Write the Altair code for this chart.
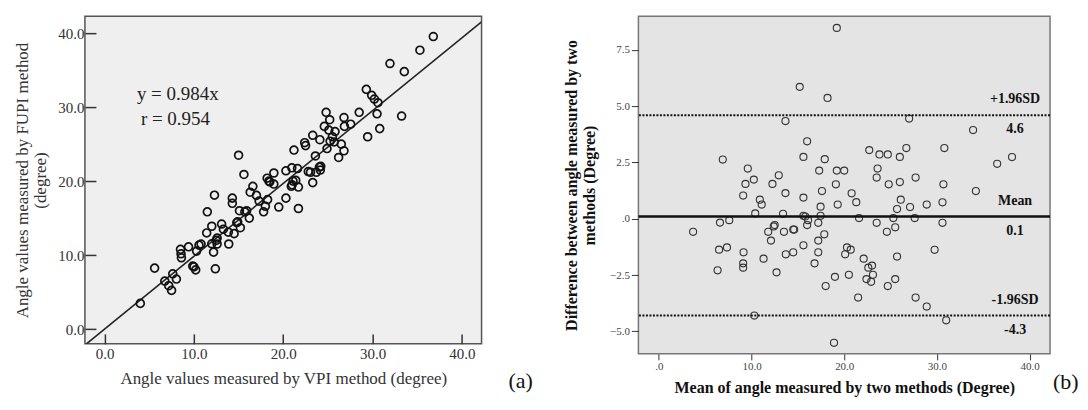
import altair as alt
import pandas as pd

# ---------------- Panel (a): VPI vs FUPI ----------------
vpi = [4.0, 5.6, 6.74, 7.18, 7.5, 7.63, 8.04, 8.5, 8.56, 8.6, 9.4, 9.87, 10.0, 10.2,
       10.3, 10.57, 10.8, 11.43, 11.5, 12.3, 12.0, 12.0, 12.2, 12.4, 12.6, 12.6, 12.5,
       13.1, 13.3, 13.9, 13.85, 14.5, 14.3, 14.3, 14.8, 14.9, 15.2, 15.0, 15.1, 15.6,
       15.7, 15.9, 16.2, 16.3, 16.6, 17.0, 17.3, 17.8, 18.0, 18.25, 18.2, 18.4, 18.95,
       18.95, 19.5, 20.3, 20.3, 20.96, 21.6, 20.9, 21.1, 21.7, 21.7, 21.2, 22.4, 22.5,
       22.8, 36.8, 35.3, 31.95, 33.55, 29.3, 29.9, 30.2, 30.6, 30.5, 33.25, 30.8, 29.45,
       28.5, 27.55, 26.8, 26.85, 24.8, 25.2, 24.6, 25.1, 25.8, 25.5, 25.25, 25.7, 24.9,
       26.5, 26.8, 26.2, 23.3, 24.1, 23.6, 23.05, 23.7, 24.05, 24.2, 24.15, 21.4, 21.0,
       23.3, 18.5]
fupi = [3.47, 8.24, 6.49, 5.86, 5.23, 7.47, 6.76, 10.77, 10.18, 9.64, 11.12, 8.51, 8.4, 8.0,
        10.54, 11.35, 11.49, 13.0, 15.85, 18.1, 13.9, 11.53, 10.4, 8.15, 12.3, 11.5, 12.0,
        14.2, 13.5, 11.5, 13.1, 12.9, 17.7, 17.0, 14.4, 14.5, 13.7, 23.5, 16.0, 20.9,
        15.85, 16.0, 15.0, 18.5, 19.3, 18.07, 17.3, 15.85, 16.6, 17.5, 20.4, 20.0, 21.1,
        19.6, 16.5, 21.4, 17.7, 21.8, 21.7, 19.3, 20.0, 19.2, 16.3, 24.2, 25.2, 24.8,
        21.3, 39.55, 37.7, 35.9, 34.8, 32.4, 31.6, 31.1, 30.6, 29.1, 28.8, 27.1, 26.0,
        29.3, 27.7, 28.6, 27.4, 29.3, 28.3, 27.4, 26.9, 26.7, 26.0, 25.4, 25.3, 24.4,
        25.0, 24.1, 23.2, 26.2, 25.6, 23.4, 21.2, 21.2, 21.9, 22.0, 21.5, 20.1, 19.5,
        19.8, 19.9]
slope = 0.984
fit_text = ["y = 0.984x", "r = 0.954"]

# ---------------- Panel (b): Bland-Altman ----------------
ba_mean = [6.9, 9.6, 10.25, 9.35, 9.1, 12.26, 12.94, 10.9, 11.1, 10.4, 7.6, 6.6, 3.7, 12.5,
           12.4, 11.8, 12.1, 6.5, 7.35, 9.14, 9.1, 9.1, 6.34, 11.3, 12.7, 10.3, 19.2, 15.2,
           18.2, 13.66, 16.0, 15.6, 17.9, 22.7, 23.8, 24.7, 26.0, 17.3, 19.2, 20.0, 23.6,
           23.5, 13.66, 15.6, 17.6, 19.1, 20.8, 21.3, 24.8, 26.0, 26.1, 25.7, 17.45, 19.3,
           13.4, 15.6, 15.8, 16.1, 17.45, 16.0, 17.2, 13.5, 14.5, 14.6, 21.6, 23.5, 24.6,
           25.3, 25.5, 17.85, 17.2, 15.6, 17.2, 13.7, 14.5, 16.8, 20.3, 20.7, 20.1, 22.1,
           23.0, 22.6, 23.1, 22.4, 22.9, 19.0, 20.5, 18.0, 21.5, 24.7, 25.5, 25.7, 18.9,
           27.0, 33.9, 26.7, 30.8, 36.5, 38.1, 27.7, 30.7, 34.2, 27.1, 28.9, 30.6, 27.6,
           30.6, 29.75, 27.7, 28.9, 31.0]
ba_diff = [2.63, 2.23, 1.74, 1.55, 1.03, 1.55, 1.93, 0.85, 0.63, 0.24, -0.06, -0.17, -0.58,
           -0.28, -0.34, -0.58, -0.97, -1.37, -1.27, -1.49, -1.98, -2.17, -2.29, -1.77,
           -2.38, -4.3, 8.48, 5.86, 5.37, 4.34, 3.44, 2.75, 2.65, 3.05, 2.86, 2.86, 2.75,
           2.14, 2.14, 2.14, 2.23, 1.83, 1.14, 0.94, 1.23, 1.53, 1.13, 0.74, 1.53, 1.63,
           0.85, 0.43, 0.54, 0.63, 0.22, 0.13, 0.1, -0.06, 0.13, -0.28, -0.18, -0.58, -0.48,
           -0.48, 0.03, -0.18, -0.58, 0.03, -0.38, -0.69, -0.97, -1.18, -1.49, -1.58, -1.49,
           -1.98, -1.27, -1.37, -1.58, -1.77, -2.08, -2.17, -2.49, -2.68, -2.8, -2.58,
           -2.49, -2.99, -3.5, -2.99, -2.68, -1.68, -5.51, 4.45, 3.94, 3.14, 3.14, 2.44,
           2.74, 1.83, 1.53, 1.23, 0.52, 0.63, 0.73, 0.03, -0.18, -1.38, -3.5, -3.9, -4.51]
limit_values = [4.6, 0.1, -4.3]
limit_names = ["+1.96SD", "Mean", "-1.96SD"]
limit_texts = ["4.6", "0.1", "-4.3"]
limit_kind = ["dotted", "solid", "dotted"]

SERIF = "Liberation Serif"
XDOM = [-2.2, 42.2]

# ----- Panel (a)
df_a = pd.DataFrame({"vpi": vpi, "fupi": fupi})
df_fit = pd.DataFrame({"vpi": XDOM, "fupi": [slope * v for v in XDOM]})

xa = alt.X("vpi:Q", scale=alt.Scale(domain=XDOM, nice=False, zero=False),
           axis=alt.Axis(values=[0, 10, 20, 30, 40], format=".1f", offset=-10, tickSize=10,
                         domain=False, grid=False, tickColor="#333", tickWidth=1.5,
                         labelFont=SERIF, labelFontSize=15, labelColor="#333", labelPadding=3,
                         title="Angle values measured by VPI method (degree)",
                         titleFont=SERIF, titleFontSize=17, titleFontWeight="normal",
                         titleColor="#333", titlePadding=9))
ya = alt.Y("fupi:Q", scale=alt.Scale(domain=[-2.0, 42.3], nice=False, zero=False),
           axis=alt.Axis(values=[0, 10, 20, 30, 40], format=".1f", offset=-11, tickSize=11,
                         domain=False, grid=False, tickColor="#333", tickWidth=1.5,
                         labelFont=SERIF, labelFontSize=15, labelColor="#333", labelPadding=1,
                         title=["Angle values measured by FUPI method", "(degree)"],
                         titleFont=SERIF, titleFontSize=17, titleFontWeight="normal",
                         titleColor="#333", titlePadding=8, titleLineHeight=18))

pts_a = alt.Chart(df_a).mark_point(shape="circle", filled=False, stroke="#111",
                                   strokeWidth=1.7, size=62, opacity=1).encode(x=xa, y=ya)
fit_a = alt.Chart(df_fit).mark_line(color="#222", strokeWidth=1.6, clip=True).encode(
    x="vpi:Q", y="fupi:Q")
ann1 = alt.Chart(pd.DataFrame({"t": [fit_text[0]]})).mark_text(
    align="left", baseline="middle", font=SERIF, fontSize=19, color="#222").encode(
    x=alt.value(52), y=alt.value(78), text="t:N")
ann2 = alt.Chart(pd.DataFrame({"t": [fit_text[1]]})).mark_text(
    align="left", baseline="middle", font=SERIF, fontSize=19, color="#222").encode(
    x=alt.value(56), y=alt.value(103), text="t:N")
tag_a = alt.Chart(pd.DataFrame({"t": ["(a)"]})).mark_text(
    align="left", baseline="middle", font=SERIF, fontSize=22, color="#111").encode(
    x=alt.value(424), y=alt.value(365), text="t:N")

panel_a = alt.layer(fit_a, pts_a, ann1, ann2, tag_a).properties(
    width=397, height=328,
    view=alt.ViewBackground(fill="#efefef", stroke="#555", strokeWidth=1.5))

# ----- Panel (b)
df_b = pd.DataFrame({"m": ba_mean, "d": ba_diff})
df_lim = pd.DataFrame({"v": limit_values, "name": limit_names, "txt": limit_texts,
                       "kind": limit_kind})

lab_expr = "datum.value == 0 ? '.0' : format(datum.value, '.1f')"
xb = alt.X("m:Q", scale=alt.Scale(domain=XDOM, nice=False, zero=False),
           axis=alt.Axis(values=[0, 10, 20, 30, 40], labelExpr=lab_expr, tickSize=6,
                         domain=False, grid=False, tickColor="#333",
                         labelFont=SERIF, labelFontSize=11, labelColor="#444", labelPadding=1,
                         title="Mean of angle measured by two methods (Degree)",
                         titleFont=SERIF, titleFontSize=16, titleFontWeight="bold",
                         titleColor="#111", titlePadding=8))
yb = alt.Y("d:Q", scale=alt.Scale(domain=[-6.0, 9.0], nice=False, zero=False),
           axis=alt.Axis(values=[-5, -2.5, 0, 2.5, 5, 7.5], labelExpr=lab_expr, tickSize=7,
                         domain=False, grid=False, tickColor="#333",
                         labelFont=SERIF, labelFontSize=11, labelColor="#444", labelPadding=2,
                         title=["Difference between angle measured by two",
                                "methods (Degree)"],
                         titleFont=SERIF, titleFontSize=16, titleFontWeight="bold",
                         titleColor="#111", titlePadding=12, titleLineHeight=18))

pts_b = alt.Chart(df_b).mark_point(shape="circle", filled=False, stroke="#333",
                                   strokeWidth=1.1, size=50, opacity=1).encode(x=xb, y=yb)
lim_base = alt.Chart(df_lim)
rule_solid = lim_base.transform_filter("datum.kind == 'solid'").mark_rule(
    color="#111", strokeWidth=2.5).encode(y="v:Q")
rule_dot = lim_base.transform_filter("datum.kind == 'dotted'").mark_rule(
    color="#111", strokeWidth=2, strokeDash=[2, 1.5]).encode(y="v:Q")
lab_names = lim_base.mark_text(align="center", baseline="middle", font=SERIF, fontSize=14,
                               fontWeight="bold", color="#111", dy=-16).encode(
    y="v:Q", x=alt.value(377), text="name:N")
lab_vals = lim_base.mark_text(align="center", baseline="middle", font=SERIF, fontSize=14,
                              fontWeight="bold", color="#111", dy=14).encode(
    y="v:Q", x=alt.value(377), text="txt:N")
tag_b = alt.Chart(pd.DataFrame({"t": ["(b)"]})).mark_text(
    align="left", baseline="middle", font=SERIF, fontSize=22, color="#111").encode(
    x=alt.value(415), y=alt.value(366), text="t:N")

panel_b = alt.layer(pts_b, rule_solid, rule_dot, lab_names, lab_vals, tag_b).properties(
    width=412, height=338,
    view=alt.ViewBackground(fill="#e4e4e4", stroke="#777", strokeWidth=1.5))

chart = alt.hconcat(panel_a, panel_b, spacing=157, bounds="flush").properties(
    padding={"left": 5, "top": 7, "right": 0, "bottom": 0},
    background="white")

chart.save("out.html", embed_options={"renderer": "svg", "actions": False})
